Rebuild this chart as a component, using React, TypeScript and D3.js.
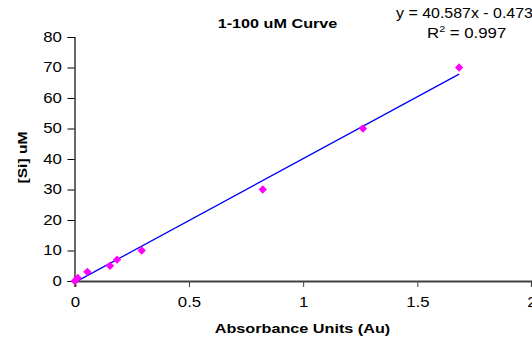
import React, { useRef, useEffect } from 'react'
import * as d3 from 'd3'

// absorbance (x) vs concentration (y)
const absorbance = [0, 0.013, 0.055, 0.154, 0.185, 0.293, 0.823, 1.262, 1.683]
const siConc = [0, 1, 3, 5, 7, 10, 30, 50, 70]
const xTicks = [0, 0.5, 1, 1.5, 2]
const yTicks = [0, 10, 20, 30, 40, 50, 60, 70, 80]
const slope = 40.587
const intercept = -0.473

const W = 532
const H = 338
const SX = 1.2 // reference text is drawn a bit wider than Arial

export default function App() {
    const svgRef = useRef<SVGSVGElement>(null)

    useEffect(() => {
        draw(svgRef.current)
    }, [])

    return (
        <svg ref={svgRef} width={W} height={H}
            style={{ position: 'absolute', left: 0, top: 0, background: '#fff' }} />
    )
}

function draw(el: SVGSVGElement | null) {
    if (!el) return
    const svg = d3.select(el)
    svg.selectAll('*').remove()

    const x = d3.scaleLinear().domain([0, 2]).range([74.8, 531.5])
    const y = d3.scaleLinear().domain([0, 80]).range([281, 37])
    const font = 'Arial, "Liberation Sans", sans-serif'

    // y axis
    const gy = svg.append('g').attr('transform', 'translate(74.5,0)')
        .call(d3.axisLeft(y).tickValues(yTicks).tickSize(7).tickPadding(3.5).tickFormat(d3.format('d')))
    gy.select('.domain').attr('stroke', '#000').attr('stroke-width', 1.2)
    gy.selectAll('.tick line').attr('stroke', '#000')
    gy.selectAll('.tick text').attr('font-family', font).attr('font-size', 14).attr('fill', '#000')
        .attr('transform', `scale(${SX},1)`)

    // x axis
    const gx = svg.append('g').attr('transform', 'translate(0,281)')
        .call(d3.axisBottom(x).tickValues(xTicks).tickSize(6).tickPadding(10).tickFormat(d => String(d)))
    gx.select('.domain').attr('stroke', '#404040').attr('stroke-width', 2.2)
    gx.selectAll('.tick line').attr('stroke', '#404040').attr('stroke-width', 1)
    gx.selectAll('.tick text').attr('font-family', font).attr('font-size', 14).attr('fill', '#000')
        .attr('transform', `scale(${SX},1)`)

    // trendline
    const xMin = d3.min(absorbance) as number
    const xMax = d3.max(absorbance) as number
    svg.append('line')
        .attr('x1', x(xMin)).attr('y1', y(slope * xMin + intercept))
        .attr('x2', x(xMax)).attr('y2', y(slope * xMax + intercept))
        .attr('stroke', '#0000ff').attr('stroke-width', 1.3)

    // points
    const diamond = d3.symbol().type(d3.symbolDiamond2).size(44)
    svg.append('g').selectAll('path')
        .data(absorbance.map((a, i) => [a, siConc[i]]))
        .enter().append('path')
        .attr('d', diamond)
        .attr('transform', d => `translate(${x(d[0])},${y(d[1])})`)
        .attr('fill', '#ff00ff')

    const label = (tx: number, ty: number, rot: number, anchor: string, sx = SX) =>
        svg.append('g').attr('transform', `translate(${tx},${ty}) rotate(${rot}) scale(${sx},1)`)
            .append('text').attr('text-anchor', anchor).attr('font-family', font)

    // title
    label(277.5, 28, 0, 'middle').attr('font-size', 13.5).attr('font-weight', 'bold')
        .text('1-100 uM Curve')

    // equation
    label(396, 18, 0, 'start', 1.14).attr('font-size', 14)
        .text(`y = ${slope}x - ${Math.abs(intercept)}`)
    const r2 = label(427, 38, 0, 'start').attr('font-size', 14)
    r2.append('tspan').text('R')
    r2.append('tspan').attr('dy', -6).attr('font-size', 9).text('2')
    r2.append('tspan').attr('dy', 6).text(' = 0.997')

    // axis labels
    label(302.5, 333, 0, 'middle').attr('font-size', 13.5).attr('font-weight', 'bold')
        .text('Absorbance Units (Au)')
    label(27, 157.5, -90, 'middle').attr('font-size', 13).attr('font-weight', 'bold')
        .text('[Si] uM')
}
